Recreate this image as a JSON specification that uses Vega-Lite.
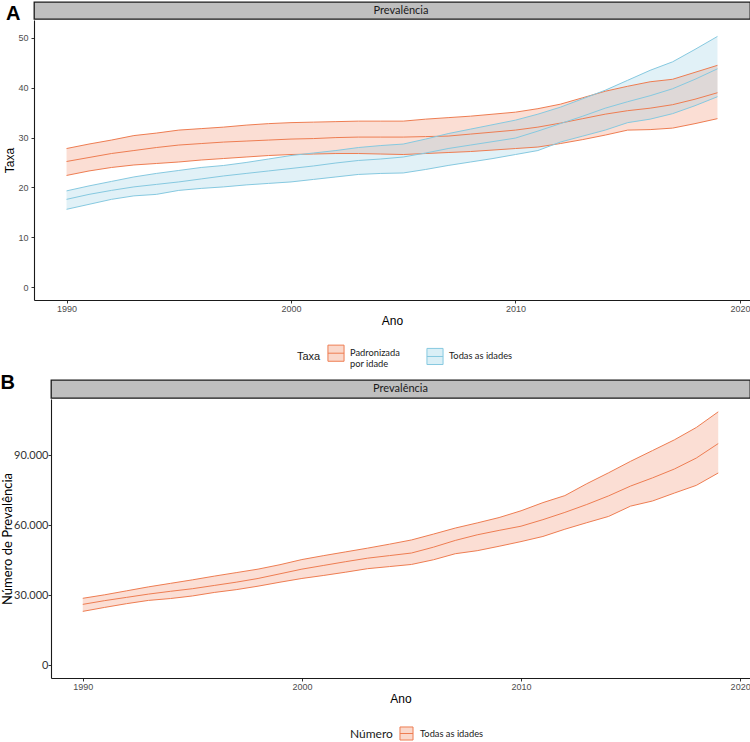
{
  "$schema": "https://vega.github.io/schema/vega-lite/v6.json",
  "padding": {"left": 0, "top": 1, "right": 2, "bottom": 0},
  "background": "white",
  "spacing": 3,
  "resolve": {"scale": {"color": "independent", "x": "independent", "y": "independent"}, "legend": {"color": "independent"}},
  "datasets": {
    "A": [
      {"Ano":1990,"tipo":"Padronizada por idade","lo":22.4,"val":25.2,"hi":27.8},
      {"Ano":1991,"tipo":"Padronizada por idade","lo":23.3,"val":26.0,"hi":28.7},
      {"Ano":1992,"tipo":"Padronizada por idade","lo":24.0,"val":26.8,"hi":29.5},
      {"Ano":1993,"tipo":"Padronizada por idade","lo":24.5,"val":27.4,"hi":30.4},
      {"Ano":1994,"tipo":"Padronizada por idade","lo":24.8,"val":28.0,"hi":30.9},
      {"Ano":1995,"tipo":"Padronizada por idade","lo":25.1,"val":28.5,"hi":31.5},
      {"Ano":1996,"tipo":"Padronizada por idade","lo":25.5,"val":28.8,"hi":31.8},
      {"Ano":1997,"tipo":"Padronizada por idade","lo":25.8,"val":29.1,"hi":32.1},
      {"Ano":1998,"tipo":"Padronizada por idade","lo":26.1,"val":29.3,"hi":32.5},
      {"Ano":1999,"tipo":"Padronizada por idade","lo":26.4,"val":29.5,"hi":32.8},
      {"Ano":2000,"tipo":"Padronizada por idade","lo":26.6,"val":29.7,"hi":33.0},
      {"Ano":2001,"tipo":"Padronizada por idade","lo":26.7,"val":29.8,"hi":33.1},
      {"Ano":2002,"tipo":"Padronizada por idade","lo":26.8,"val":30.0,"hi":33.2},
      {"Ano":2003,"tipo":"Padronizada por idade","lo":26.8,"val":30.1,"hi":33.3},
      {"Ano":2004,"tipo":"Padronizada por idade","lo":26.7,"val":30.1,"hi":33.3},
      {"Ano":2005,"tipo":"Padronizada por idade","lo":26.6,"val":30.1,"hi":33.3},
      {"Ano":2006,"tipo":"Padronizada por idade","lo":26.8,"val":30.2,"hi":33.7},
      {"Ano":2007,"tipo":"Padronizada por idade","lo":27.0,"val":30.3,"hi":34.0},
      {"Ano":2008,"tipo":"Padronizada por idade","lo":27.2,"val":30.7,"hi":34.3},
      {"Ano":2009,"tipo":"Padronizada por idade","lo":27.5,"val":31.1,"hi":34.7},
      {"Ano":2010,"tipo":"Padronizada por idade","lo":27.8,"val":31.5,"hi":35.1},
      {"Ano":2011,"tipo":"Padronizada por idade","lo":28.1,"val":32.1,"hi":35.8},
      {"Ano":2012,"tipo":"Padronizada por idade","lo":28.8,"val":32.9,"hi":36.7},
      {"Ano":2013,"tipo":"Padronizada por idade","lo":29.6,"val":33.8,"hi":38.0},
      {"Ano":2014,"tipo":"Padronizada por idade","lo":30.5,"val":34.7,"hi":39.3},
      {"Ano":2015,"tipo":"Padronizada por idade","lo":31.5,"val":35.4,"hi":40.3},
      {"Ano":2016,"tipo":"Padronizada por idade","lo":31.6,"val":35.9,"hi":41.2},
      {"Ano":2017,"tipo":"Padronizada por idade","lo":31.9,"val":36.6,"hi":41.7},
      {"Ano":2018,"tipo":"Padronizada por idade","lo":32.8,"val":37.7,"hi":43.1},
      {"Ano":2019,"tipo":"Padronizada por idade","lo":33.8,"val":39.0,"hi":44.5},
      {"Ano":1990,"tipo":"Todas as idades","lo":15.6,"val":17.6,"hi":19.3},
      {"Ano":1991,"tipo":"Todas as idades","lo":16.6,"val":18.6,"hi":20.3},
      {"Ano":1992,"tipo":"Todas as idades","lo":17.6,"val":19.4,"hi":21.2},
      {"Ano":1993,"tipo":"Todas as idades","lo":18.3,"val":20.1,"hi":22.1},
      {"Ano":1994,"tipo":"Todas as idades","lo":18.6,"val":20.6,"hi":22.8},
      {"Ano":1995,"tipo":"Todas as idades","lo":19.4,"val":21.1,"hi":23.4},
      {"Ano":1996,"tipo":"Todas as idades","lo":19.8,"val":21.7,"hi":24.0},
      {"Ano":1997,"tipo":"Todas as idades","lo":20.1,"val":22.3,"hi":24.4},
      {"Ano":1998,"tipo":"Todas as idades","lo":20.5,"val":22.8,"hi":25.0},
      {"Ano":1999,"tipo":"Todas as idades","lo":20.8,"val":23.3,"hi":25.7},
      {"Ano":2000,"tipo":"Todas as idades","lo":21.1,"val":23.8,"hi":26.4},
      {"Ano":2001,"tipo":"Todas as idades","lo":21.6,"val":24.3,"hi":26.9},
      {"Ano":2002,"tipo":"Todas as idades","lo":22.1,"val":24.9,"hi":27.4},
      {"Ano":2003,"tipo":"Todas as idades","lo":22.6,"val":25.4,"hi":28.0},
      {"Ano":2004,"tipo":"Todas as idades","lo":22.8,"val":25.7,"hi":28.4},
      {"Ano":2005,"tipo":"Todas as idades","lo":22.9,"val":26.1,"hi":28.7},
      {"Ano":2006,"tipo":"Todas as idades","lo":23.6,"val":26.9,"hi":29.7},
      {"Ano":2007,"tipo":"Todas as idades","lo":24.4,"val":27.8,"hi":30.8},
      {"Ano":2008,"tipo":"Todas as idades","lo":25.1,"val":28.5,"hi":31.7},
      {"Ano":2009,"tipo":"Todas as idades","lo":25.8,"val":29.2,"hi":32.6},
      {"Ano":2010,"tipo":"Todas as idades","lo":26.6,"val":29.9,"hi":33.5},
      {"Ano":2011,"tipo":"Todas as idades","lo":27.4,"val":31.3,"hi":34.7},
      {"Ano":2012,"tipo":"Todas as idades","lo":29.1,"val":32.8,"hi":36.1},
      {"Ano":2013,"tipo":"Todas as idades","lo":30.3,"val":34.3,"hi":37.8},
      {"Ano":2014,"tipo":"Todas as idades","lo":31.5,"val":35.9,"hi":39.5},
      {"Ano":2015,"tipo":"Todas as idades","lo":33.0,"val":37.2,"hi":41.5},
      {"Ano":2016,"tipo":"Todas as idades","lo":33.7,"val":38.4,"hi":43.5},
      {"Ano":2017,"tipo":"Todas as idades","lo":34.8,"val":39.8,"hi":45.2},
      {"Ano":2018,"tipo":"Todas as idades","lo":36.4,"val":41.7,"hi":47.7},
      {"Ano":2019,"tipo":"Todas as idades","lo":38.2,"val":43.8,"hi":50.3}
    ],
    "B": [
      {"Ano":1990,"grupo":"Todas as idades","lo":23100,"val":26100,"hi":28700},
      {"Ano":1991,"grupo":"Todas as idades","lo":24800,"val":27700,"hi":30200},
      {"Ano":1992,"grupo":"Todas as idades","lo":26400,"val":29100,"hi":31900},
      {"Ano":1993,"grupo":"Todas as idades","lo":27800,"val":30500,"hi":33600},
      {"Ano":1994,"grupo":"Todas as idades","lo":28600,"val":31700,"hi":35100},
      {"Ano":1995,"grupo":"Todas as idades","lo":29700,"val":32800,"hi":36600},
      {"Ano":1996,"grupo":"Todas as idades","lo":31200,"val":34200,"hi":38200},
      {"Ano":1997,"grupo":"Todas as idades","lo":32400,"val":35600,"hi":39700},
      {"Ano":1998,"grupo":"Todas as idades","lo":33900,"val":37200,"hi":41200},
      {"Ano":1999,"grupo":"Todas as idades","lo":35600,"val":39200,"hi":43100},
      {"Ano":2000,"grupo":"Todas as idades","lo":37200,"val":41200,"hi":45300},
      {"Ano":2001,"grupo":"Todas as idades","lo":38500,"val":42800,"hi":47000},
      {"Ano":2002,"grupo":"Todas as idades","lo":39900,"val":44400,"hi":48600},
      {"Ano":2003,"grupo":"Todas as idades","lo":41400,"val":45900,"hi":50200},
      {"Ano":2004,"grupo":"Todas as idades","lo":42300,"val":47000,"hi":51900},
      {"Ano":2005,"grupo":"Todas as idades","lo":43200,"val":48100,"hi":53700},
      {"Ano":2006,"grupo":"Todas as idades","lo":45200,"val":50600,"hi":56200},
      {"Ano":2007,"grupo":"Todas as idades","lo":47800,"val":53500,"hi":58800},
      {"Ano":2008,"grupo":"Todas as idades","lo":49100,"val":55900,"hi":61000},
      {"Ano":2009,"grupo":"Todas as idades","lo":51000,"val":57800,"hi":63300},
      {"Ano":2010,"grupo":"Todas as idades","lo":53000,"val":59600,"hi":66200},
      {"Ano":2011,"grupo":"Todas as idades","lo":55200,"val":62400,"hi":69700},
      {"Ano":2012,"grupo":"Todas as idades","lo":58300,"val":65500,"hi":72700},
      {"Ano":2013,"grupo":"Todas as idades","lo":61100,"val":68900,"hi":77800},
      {"Ano":2014,"grupo":"Todas as idades","lo":63800,"val":72600,"hi":82500},
      {"Ano":2015,"grupo":"Todas as idades","lo":68200,"val":76800,"hi":87400},
      {"Ano":2016,"grupo":"Todas as idades","lo":70400,"val":80300,"hi":92000},
      {"Ano":2017,"grupo":"Todas as idades","lo":73800,"val":84100,"hi":96600},
      {"Ano":2018,"grupo":"Todas as idades","lo":77100,"val":88800,"hi":101900},
      {"Ano":2019,"grupo":"Todas as idades","lo":82400,"val":95000,"hi":108600}
    ]
  },
  "vconcat": [
    {
      "spacing": 0,
      "title": {"text": "A", "orient": "left", "angle": 0, "anchor": "end", "align": "right", "baseline": "top", "font": "Liberation Sans", "fontSize": 20, "fontWeight": "bold", "color": "#000000", "offset": -31, "dy": 3},
      "vconcat": [
        {
          "width": 716,
          "height": 17,
          "data": {"values": [{"painel": "Prevalência"}]},
          "view": {"fill": "#BFBFBF", "stroke": "#1A1A1A", "strokeWidth": 1.3},
          "mark": {"type": "text", "font": "Lato", "fontSize": 11, "color": "#1A1A1A", "dx": 9},
          "encoding": {"text": {"field": "painel", "type": "nominal"}}
        },
        {
          "width": 716,
          "height": 280,
          "data": {"name": "A"},
          "encoding": {
            "x": {"field": "Ano", "type": "quantitative", "scale": {"domain": [1988.55, 2020.45], "nice": false, "zero": false}, "axis": {"values": [1990, 2000, 2010, 2020], "format": "d", "title": "Ano", "labelPadding": 1, "titlePadding": 2}},
            "color": {
              "field": "tipo", "type": "nominal",
              "scale": {"domain": ["Padronizada por idade", "Todas as idades"], "range": ["#EE7D52", "#86C9E0"]},
              "legend": {
                "title": "Taxa", "orient": "none", "legendX": 263, "legendY": 342, "direction": "horizontal", "titleOrient": "left",
                "symbolType": "M-1,-1H1V1H-1Z M-1,0H1", "symbolSize": 260, "symbolStrokeWidth": 1,
                "labelExpr": "datum.label == 'Padronizada por idade' ? ['Padronizada', '\u00a0\u00a0\u00a0por idade'] : datum.label",
                "labelFont": "Lato", "labelFontSize": 9.3, "labelColor": "#1A1A1A", "labelOffset": 5,
                "titleFont": "Liberation Sans", "titleFontSize": 11, "titleFontWeight": "normal", "titleColor": "#1A1A1A", "titlePadding": 6,
                "columnPadding": 24,
                "encode": {"symbols": {"update": {
                  "fill": {"signal": "datum.value == 'Padronizada por idade' ? '#EE7D52' : '#86C9E0'"},
                  "stroke": {"signal": "datum.value == 'Padronizada por idade' ? '#EE7D52' : '#86C9E0'"},
                  "fillOpacity": {"value": 0.3}, "opacity": {"value": 1}, "strokeWidth": {"value": 1}}}}
              }
            }
          },
          "layer": [
            {"mark": {"type": "area", "fillOpacity": 0.25, "strokeWidth": 0},
             "encoding": {"y": {"field": "lo", "type": "quantitative", "title": "Taxa", "scale": {"domain": [-2.6, 53.6], "nice": false, "zero": false}, "axis": {"values": [0, 10, 20, 30, 40, 50], "labelPadding": 3, "titlePadding": 1}}, "y2": {"field": "hi"}}},
            {"mark": {"type": "line", "strokeWidth": 1}, "encoding": {"y": {"field": "lo", "type": "quantitative", "title": "Taxa"}}},
            {"mark": {"type": "line", "strokeWidth": 1}, "encoding": {"y": {"field": "val", "type": "quantitative", "title": "Taxa"}}},
            {"mark": {"type": "line", "strokeWidth": 1}, "encoding": {"y": {"field": "hi", "type": "quantitative", "title": "Taxa"}}}
          ]
        }
      ]
    },
    {
      "spacing": 0,
      "bounds": "flush",
      "hconcat": [
        {"width": 17, "height": 1, "data": {"values": []}, "mark": "point"},
        {
          "spacing": 0,
          "title": {"text": "B", "orient": "left", "angle": 0, "anchor": "end", "align": "right", "baseline": "top", "font": "Liberation Sans", "fontSize": 20, "fontWeight": "bold", "color": "#000000", "offset": -28, "dy": -6},
          "vconcat": [
            {
              "width": 699,
              "height": 18,
              "data": {"values": [{"painel": "Prevalência"}]},
              "view": {"fill": "#BFBFBF", "stroke": "#1A1A1A", "strokeWidth": 1.3},
              "mark": {"type": "text", "font": "Lato", "fontSize": 11, "color": "#1A1A1A"},
              "encoding": {"text": {"field": "painel", "type": "nominal"}}
            },
            {
              "width": 699,
              "height": 279,
              "data": {"name": "B"},
              "encoding": {
                "x": {"field": "Ano", "type": "quantitative", "scale": {"domain": [1988.55, 2020.45], "nice": false, "zero": false}, "axis": {"values": [1990, 2000, 2010, 2020], "format": "d", "title": "Ano", "labelPadding": 1, "titlePadding": 2}},
                "color": {
                  "field": "grupo", "type": "nominal",
                  "scale": {"domain": ["Todas as idades"], "range": ["#EE7D52"]},
                  "legend": {
                    "title": "Número", "orient": "none", "legendX": 316, "legendY": 346, "direction": "horizontal", "titleOrient": "left",
                    "symbolType": "M-1,-1H1V1H-1Z M-1,0H1", "symbolSize": 170, "symbolStrokeWidth": 1,
                    "labelFont": "Lato", "labelFontSize": 9.3, "labelColor": "#1A1A1A", "labelOffset": 6,
                    "titleFont": "Lato", "titleFontSize": 12, "titleFontWeight": "normal", "titleColor": "#1A1A1A", "titlePadding": 6,
                    "encode": {"symbols": {"update": {
                      "fill": {"value": "#EE7D52"}, "stroke": {"value": "#EE7D52"},
                      "fillOpacity": {"value": 0.3}, "opacity": {"value": 1}, "strokeWidth": {"value": 1}}}}
                  }
                }
              },
              "layer": [
                {"mark": {"type": "area", "fillOpacity": 0.25, "strokeWidth": 0},
                 "encoding": {"y": {"field": "lo", "type": "quantitative", "title": "Número de Prevalência", "scale": {"domain": [-5450, 114100], "nice": false, "zero": false}, "axis": {"values": [0, 30000, 60000, 90000], "format": ",.0f", "labelExpr": "replace(datum.label, ',', '.')", "labelFont": "Lato", "labelFontSize": 11, "labelColor": "#333333", "labelPadding": 0, "titleFont": "Lato", "titleFontSize": 13, "titlePadding": -1}}, "y2": {"field": "hi"}}},
                {"mark": {"type": "line", "strokeWidth": 1}, "encoding": {"y": {"field": "lo", "type": "quantitative", "title": "Número de Prevalência", "axis": {"values": [0, 30000, 60000, 90000], "format": ",.0f", "labelExpr": "replace(datum.label, ',', '.')", "labelFont": "Lato", "labelFontSize": 11, "labelColor": "#333333", "labelPadding": 0, "titleFont": "Lato", "titleFontSize": 13, "titlePadding": -1}}}},
                {"mark": {"type": "line", "strokeWidth": 1}, "encoding": {"y": {"field": "val", "type": "quantitative", "title": "Número de Prevalência", "axis": {"values": [0, 30000, 60000, 90000], "format": ",.0f", "labelExpr": "replace(datum.label, ',', '.')", "labelFont": "Lato", "labelFontSize": 11, "labelColor": "#333333", "labelPadding": 0, "titleFont": "Lato", "titleFontSize": 13, "titlePadding": -1}}}},
                {"mark": {"type": "line", "strokeWidth": 1}, "encoding": {"y": {"field": "hi", "type": "quantitative", "title": "Número de Prevalência", "axis": {"values": [0, 30000, 60000, 90000], "format": ",.0f", "labelExpr": "replace(datum.label, ',', '.')", "labelFont": "Lato", "labelFontSize": 11, "labelColor": "#333333", "labelPadding": 0, "titleFont": "Lato", "titleFontSize": 13, "titlePadding": -1}}}}
              ]
            }
          ]
        }
      ]
    }
  ],
  "config": {
    "view": {"stroke": null},
    "axis": {
      "grid": false, "domainColor": "#1A1A1A", "domainWidth": 1.1, "tickColor": "#333333", "tickSize": 3,
      "labelColor": "#4D4D4D", "labelFont": "Liberation Sans", "labelFontSize": 9, "labelPadding": 2,
      "titleFont": "Liberation Sans", "titleFontSize": 12, "titleFontWeight": "normal", "titleColor": "#000000", "titlePadding": 3
    }
  }
}
